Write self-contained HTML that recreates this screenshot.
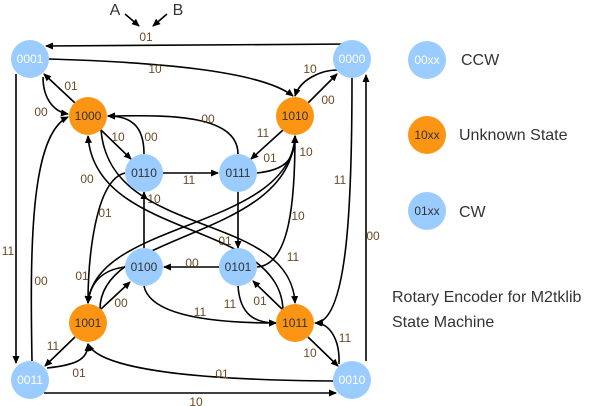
<!DOCTYPE html>
<html><head><meta charset="utf-8"><style>
html,body{margin:0;padding:0;background:#fff;}
svg{display:block;font-family:"Liberation Sans",sans-serif;}
.e{fill:none;stroke:#000;stroke-width:1.6;marker-end:url(#a);}
.l{fill:#6b4a26;font-size:12px;text-anchor:middle;}
.n{font-size:12px;text-anchor:middle;dominant-baseline:central;}
</style></head><body>
<svg width="615" height="406" viewBox="0 0 615 406">
<defs><marker id="a" markerWidth="8" markerHeight="8" refX="7" refY="4" orient="auto" markerUnits="userSpaceOnUse"><path d="M0,0.5 L8,4 L0,7.5 z" fill="#000"/></marker></defs>
<text x="115" y="15" font-size="16" fill="#333" text-anchor="middle">A</text>
<text x="178" y="15" font-size="16" fill="#333" text-anchor="middle">B</text>
<path class="e" d="M125,14 L139,26"/><path class="e" d="M167,14 L153,26"/>
<path class="e" d="M352,44 L46,46"/><text class="l" x="146" y="41">01</text>
<path class="e" d="M49,59 C150,62 260,70 293,96"/><text class="l" x="155" y="73">10</text>
<path class="e" d="M338,70 C320,70 300,80 295,96"/><text class="l" x="310" y="73">10</text>
<path class="e" d="M308,103 L337,74"/><text class="l" x="328" y="104">00</text>
<path class="e" d="M75,103 L44,74"/><text class="l" x="71" y="90">01</text>
<path class="e" d="M43,77 C43,100 55,112 68,114"/><text class="l" x="41" y="116">00</text>
<path class="e" d="M101,130 L131,159"/><text class="l" x="118" y="141">10</text>
<path class="e" d="M144,154 C144,125 130,116 108,116"/><text class="l" x="151" y="141">00</text>
<path class="e" d="M238,154 C238,110 150,116 108,116"/><text class="l" x="208" y="123">00</text>
<path class="e" d="M163,173 L218,173"/><text class="l" x="189" y="184">11</text>
<path class="e" d="M283,130 L251,159"/><text class="l" x="263" y="137">11</text>
<path class="e" d="M257,173 C285,170 295,160 295,136"/><text class="l" x="270" y="162">01</text>
<path class="e" d="M16,74 L16,363"/><text class="l" x="8" y="255">11</text>
<path class="e" d="M32,361 C30,250 30,135 68,117"/><text class="l" x="41" y="285">00</text>
<path class="e" d="M352,78 C352,200 348,320 316,323"/><text class="l" x="340" y="184">11</text>
<path class="e" d="M366,361 L366,75"/><text class="l" x="373" y="240">00</text>
<path class="e" d="M75,337 L45,366"/><text class="l" x="53" y="350">11</text>
<path class="e" d="M47,368 C75,365 88,360 88,344"/><text class="l" x="79" y="377">01</text>
<path class="e" d="M333,381 C200,380 100,370 88,344"/><text class="l" x="222" y="378">01</text>
<path class="e" d="M44,393 L336,393"/><text class="l" x="196" y="406">10</text>
<path class="e" d="M308,337 L338,366"/><text class="l" x="310" y="357">10</text>
<path class="e" d="M339,364 C340,340 330,323 315,323"/><text class="l" x="345" y="342">11</text>
<path class="e" d="M219,267 L164,267"/><text class="l" x="192" y="267">00</text>
<path class="e" d="M101,309 L130,282"/><text class="l" x="121" y="307">00</text>
<path class="e" d="M144,286 C150,315 210,323 276,323"/><text class="l" x="200" y="316">11</text>
<path class="e" d="M238,286 C240,315 255,323 276,323"/><text class="l" x="230" y="308">11</text>
<path class="e" d="M283,310 L253,281"/><text class="l" x="260" y="305">01</text>
<path class="e" d="M238,192 L238,248"/><text class="l" x="225" y="245">01</text>
<path class="e" d="M144,248 L144,192"/><text class="l" x="154" y="203">10</text>
<path class="e" d="M125,173 C95,180 88,260 88,303"/><text class="l" x="105" y="217">01</text>
<path class="e" d="M125,267 C100,270 90,285 88,303"/><text class="l" x="82" y="280">01</text>
<path class="e" d="M257,267 C290,265 295,200 295,136"/><text class="l" x="298" y="220">10</text>
<path class="e" d="M101,130 C110,240 290,210 295,303"/><text class="l" x="293" y="261">11</text>
<path class="e" d="M283,310 C280,220 95,240 88,136"/><text class="l" x="87" y="183">00</text>
<path class="e" d="M100,309 C100,230 290,240 295,136"/><text class="l" x="306" y="156">10</text>
<path class="e" d="M295,136 C290,230 95,220 88,303"/>
<g>
<circle cx="30" cy="59" r="19" fill="#9accff"/><text class="n" x="30" y="59" fill="#fff">0001</text>
<circle cx="352" cy="59" r="19" fill="#9accff"/><text class="n" x="352" y="59" fill="#fff">0000</text>
<circle cx="88" cy="116" r="19" fill="#fd9514"/><text class="n" x="88" y="116" fill="#333">1000</text>
<circle cx="295" cy="116" r="19" fill="#fd9514"/><text class="n" x="295" y="116" fill="#333">1010</text>
<circle cx="144" cy="173" r="19" fill="#9accff"/><text class="n" x="144" y="173" fill="#333">0110</text>
<circle cx="238" cy="173" r="19" fill="#9accff"/><text class="n" x="238" y="173" fill="#333">0111</text>
<circle cx="144" cy="267" r="19" fill="#9accff"/><text class="n" x="144" y="267" fill="#333">0100</text>
<circle cx="238" cy="267" r="19" fill="#9accff"/><text class="n" x="238" y="267" fill="#333">0101</text>
<circle cx="88" cy="323" r="19" fill="#fd9514"/><text class="n" x="88" y="323" fill="#333">1001</text>
<circle cx="295" cy="323" r="19" fill="#fd9514"/><text class="n" x="295" y="323" fill="#333">1011</text>
<circle cx="30" cy="380" r="19" fill="#9accff"/><text class="n" x="30" y="380" fill="#fff">0011</text>
<circle cx="352" cy="380" r="19" fill="#9accff"/><text class="n" x="352" y="380" fill="#fff">0010</text>
</g>
<circle cx="427" cy="60" r="19" fill="#9accff"/><text class="n" x="427" y="60" fill="#fff" font-size="11">00xx</text>
<circle cx="427" cy="135" r="19" fill="#fd9514"/><text class="n" x="427" y="135" fill="#333" font-size="11">10xx</text>
<circle cx="427" cy="211" r="19" fill="#9accff"/><text class="n" x="427" y="211" fill="#333" font-size="11">01xx</text>
<text x="461" y="65" font-size="16" fill="#333">CCW</text>
<text x="459" y="140" font-size="16" fill="#333">Unknown State</text>
<text x="459" y="217" font-size="16" fill="#333">CW</text>
<text x="392" y="302" font-size="16" fill="#333">Rotary Encoder for M2tklib</text>
<text x="392" y="327" font-size="16" fill="#333">State Machine</text>
</svg>
</body></html>
